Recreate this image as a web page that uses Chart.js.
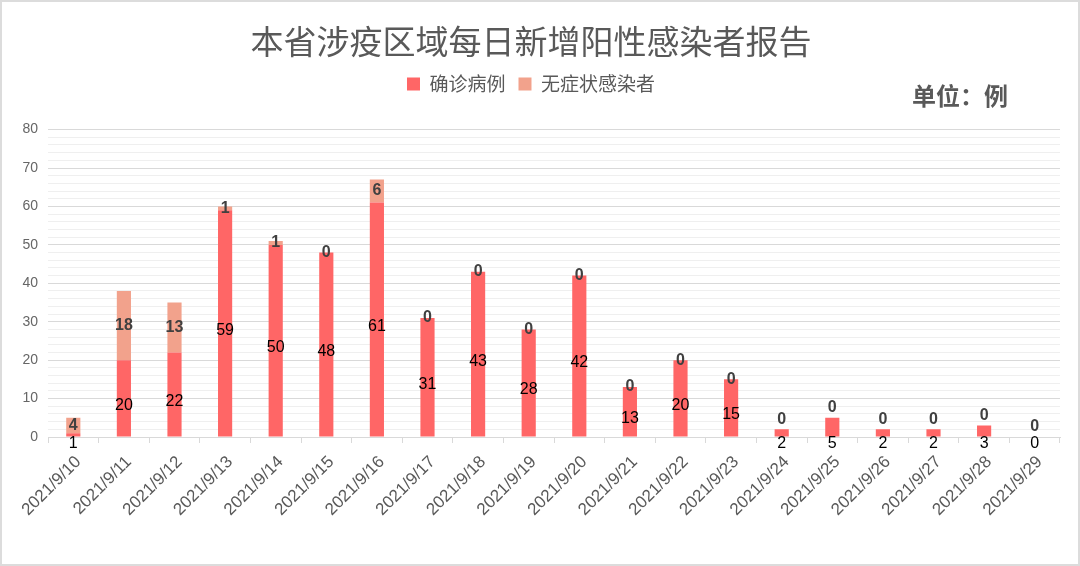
<!DOCTYPE html>
<html>
<head>
<meta charset="utf-8">
<script src="https://cdn.jsdelivr.net/npm/chart.js@4.4.1/dist/chart.umd.min.js"></script>
<style>
  html, body { margin: 0; padding: 0; background: #fff; }
  #wrap { width: 1080px; height: 566px; box-sizing: border-box; border: 2px solid #dcdcdc; }
  canvas { display: block; }
</style>
</head>
<body>
<div id="wrap"><canvas id="chart" width="1076" height="562"></canvas></div>
<script>
const days = ['2021/9/10', '2021/9/11', '2021/9/12', '2021/9/13', '2021/9/14', '2021/9/15', '2021/9/16',
              '2021/9/17', '2021/9/18', '2021/9/19', '2021/9/20', '2021/9/21', '2021/9/22', '2021/9/23',
              '2021/9/24', '2021/9/25', '2021/9/26', '2021/9/27', '2021/9/28', '2021/9/29'];
const confirmed    = [1, 20, 22, 59, 50, 48, 61, 31, 43, 28, 42, 13, 20, 15, 2, 5, 2, 2, 3, 0];
const asymptomatic = [4, 18, 13, 1, 1, 0, 6, 0, 0, 0, 0, 0, 0, 0, 0, 0, 0, 0, 0, 0];
const yMax = 80;
const yStep = 2;       // minor gridlines
const yLabelStep = 10; // labelled gridlines

const cjk = '"Noto Sans CJK SC", sans-serif';
Chart.defaults.font.family = '"Liberation Sans", "Noto Sans CJK SC", sans-serif';

// value labels: confirmed in the middle of its bar, asymptomatic on its own segment
const barLabels = {
    id: 'barLabels',
    afterDatasetsDraw(chart) {
        const ctx = chart.ctx;
        const zeroY = chart.scales.y.getPixelForValue(0);
        const low = chart.getDatasetMeta(0).data;
        const high = chart.getDatasetMeta(1).data;
        ctx.save();
        ctx.textAlign = 'center';
        ctx.textBaseline = 'middle';
        low.forEach((bar, i) => {
            const fits = bar.base - bar.y > 20;
            const y1 = fits ? (bar.y + bar.base) / 2 + 7 : zeroY + 7;
            ctx.font = '16px "Liberation Sans"';
            ctx.fillStyle = '#000';
            ctx.fillText(confirmed[i], bar.x, y1);

            const seg = high[i];
            let y2 = (seg.y + seg.base) / 2;
            if (!fits && asymptomatic[i] === 0) y2 = seg.y - 10;
            ctx.font = 'bold 16px "Liberation Sans"';
            ctx.fillStyle = '#404040';
            ctx.fillText(asymptomatic[i], seg.x, y2);
        });
        ctx.restore();
    }
};

const unitLabel = {
    id: 'unitLabel',
    afterDraw(chart) {
        const ctx = chart.ctx;
        ctx.save();
        ctx.font = 'bold 24px ' + cjk;
        ctx.fillStyle = '#595959';
        ctx.textAlign = 'right';
        ctx.textBaseline = 'middle';
        ctx.fillText('单位：例', 1006, 94);
        ctx.restore();
    }
};

new Chart(document.getElementById('chart'), {
    type: 'bar',
    data: {
        labels: days,
        datasets: [
            {
                label: '确诊病例',
                data: confirmed,
                backgroundColor: '#FF6666',
                barPercentage: 0.28,
                categoryPercentage: 1.0
            },
            {
                label: '无症状感染者',
                data: asymptomatic,
                backgroundColor: '#F2A28C',
                barPercentage: 0.28,
                categoryPercentage: 1.0
            }
        ]
    },
    options: {
        responsive: false,
        animation: false,
        layout: { padding: { left: 0, right: 18, top: 0, bottom: 0 } },
        plugins: {
            title: {
                display: true,
                text: '本省涉疫区域每日新增阳性感染者报告',
                color: '#595959',
                font: { family: cjk, size: 33, weight: 'normal' },
                padding: { top: 20, bottom: 0 }
            },
            // empty subtitle under the legend, only keeps a gap above the plot
            subtitle: {
                display: true,
                text: '',
                weight: 500,
                font: { size: 0 },
                padding: { top: 26, bottom: 0 }
            },
            legend: {
                display: true,
                labels: {
                    color: '#595959',
                    font: { family: cjk, size: 19 },
                    boxWidth: 13,
                    boxHeight: 13,
                    padding: 13
                }
            },
            tooltip: { enabled: false }
        },
        scales: {
            x: {
                stacked: true,
                grid: { drawOnChartArea: false, tickLength: 6, color: '#d9d9d9' },
                border: { color: '#d9d9d9' },
                ticks: {
                    color: '#595959',
                    font: { size: 17 },
                    minRotation: 45,
                    maxRotation: 45,
                    autoSkip: false,
                    padding: 9,
                    labelOffset: 5
                },
                afterFit(s) {
                    s.height = 127;
                    s.paddingLeft = 0;
                    s.paddingRight = 0;
                }
            },
            y: {
                stacked: true,
                min: 0,
                max: yMax,
                grid: {
                    drawTicks: false,
                    color: c => c.tick.value % yLabelStep === 0 ? '#d9d9d9' : '#efefef'
                },
                border: { display: false },
                ticks: {
                    stepSize: yStep,
                    autoSkip: false,
                    padding: 10,
                    color: '#666',
                    font: { size: 14 },
                    callback: v => v % yLabelStep === 0 ? v : ''
                },
                afterFit(s) {
                    s.width = 46;
                }
            }
        }
    },
    plugins: [barLabels, unitLabel]
});
</script>
</body>
</html>
